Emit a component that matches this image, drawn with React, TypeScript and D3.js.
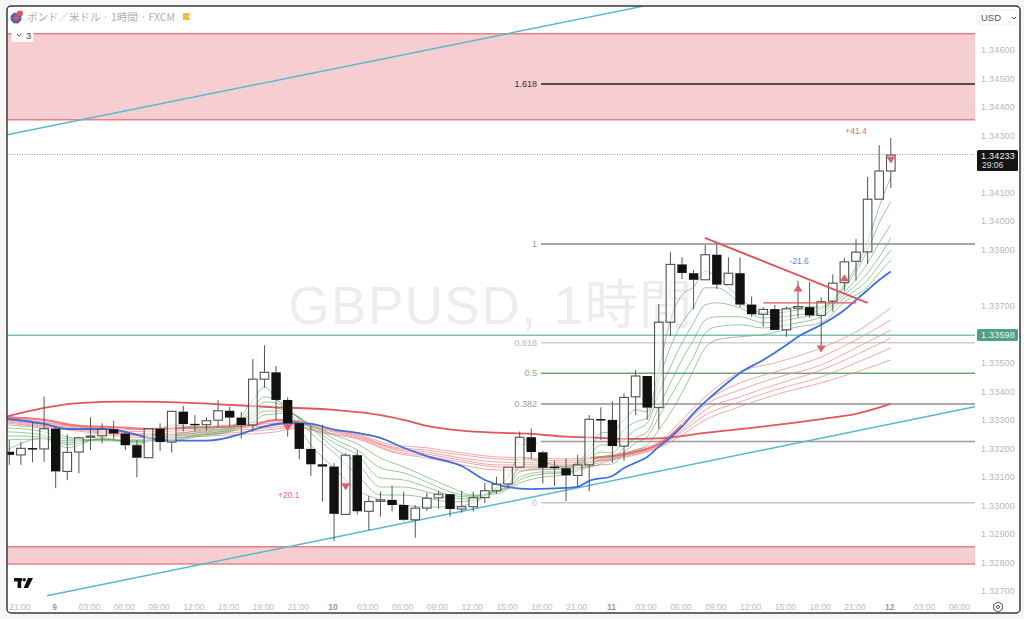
import React from "react";
import * as d3 from "d3";

const opens = [1.33189,1.33178,1.33202,1.33199,1.33270,1.33120,1.33188,1.33240,1.33245,1.33268,1.33253,1.33212,1.33168,1.33270,1.33223,1.33330,1.33287,1.33284,1.33300,1.33333,1.33309,1.33283,1.33444,1.33468,1.33371,1.33289,1.33199,1.33145,1.33137,1.32969,1.33177,1.32980,1.33015,1.33020,1.33002,1.32950,1.32991,1.33027,1.33040,1.32988,1.32996,1.33028,1.33052,1.33076,1.33135,1.33240,1.33187,1.33137,1.33131,1.33106,1.33143,1.33304,1.33301,1.33209,1.33382,1.33455,1.33344,1.33644,1.33847,1.33816,1.33793,1.33881,1.33776,1.33816,1.33706,1.33672,1.33690,1.33617,1.33693,1.33697,1.33668,1.33718,1.33783,1.33858,1.33891,1.34076,1.34175];
const highs = [1.33230,1.33224,1.33291,1.33382,1.33275,1.33250,1.33242,1.33310,1.33289,1.33298,1.33260,1.33230,1.33270,1.33289,1.33331,1.33350,1.33318,1.33310,1.33370,1.33347,1.33329,1.33515,1.33563,1.33490,1.33380,1.33289,1.33280,1.33283,1.33149,1.33184,1.33195,1.33034,1.33049,1.33070,1.33049,1.33002,1.33045,1.33052,1.33040,1.33052,1.33049,1.33080,1.33101,1.33135,1.33260,1.33271,1.33192,1.33158,1.33166,1.33178,1.33318,1.33345,1.33367,1.33394,1.33476,1.33455,1.33708,1.33890,1.33872,1.33827,1.33915,1.33921,1.33872,1.33872,1.33734,1.33696,1.33704,1.33699,1.33790,1.33786,1.33731,1.33812,1.33870,1.33936,1.34154,1.34266,1.34291];
const lows = [1.33143,1.33143,1.33152,1.33154,1.33061,1.33089,1.33113,1.33195,1.33219,1.33233,1.33195,1.33099,1.33168,1.33192,1.33186,1.33260,1.33260,1.33263,1.33274,1.33277,1.33235,1.33260,1.33414,1.33301,1.33242,1.33163,1.33104,1.33014,1.32876,1.32969,1.32969,1.32914,1.32961,1.32979,1.32947,1.32887,1.32981,1.32989,1.32961,1.32975,1.32979,1.33009,1.33041,1.33061,1.33135,1.33166,1.33078,1.33069,1.33016,1.33066,1.33051,1.33230,1.33151,1.33158,1.33318,1.33301,1.33269,1.33596,1.33795,1.33689,1.33793,1.33761,1.33775,1.33696,1.33663,1.33628,1.33617,1.33593,1.33660,1.33660,1.33540,1.33681,1.33755,1.33790,1.33849,1.34076,1.34116];
const closes = [1.33178,1.33201,1.33199,1.33270,1.33120,1.33187,1.33238,1.33244,1.33268,1.33253,1.33212,1.33168,1.33270,1.33223,1.33331,1.33286,1.33283,1.33298,1.33333,1.33309,1.33283,1.33444,1.33468,1.33371,1.33289,1.33199,1.33145,1.33137,1.32971,1.33177,1.32980,1.33014,1.33020,1.33002,1.32950,1.32991,1.33026,1.33040,1.32988,1.32996,1.33028,1.33052,1.33075,1.33135,1.33240,1.33188,1.33133,1.33132,1.33106,1.33143,1.33303,1.33302,1.33209,1.33380,1.33455,1.33344,1.33644,1.33847,1.33817,1.33793,1.33881,1.33776,1.33816,1.33706,1.33672,1.33689,1.33617,1.33691,1.33699,1.33668,1.33716,1.33781,1.33856,1.33890,1.34076,1.34175,1.34231];

const greenIdx = [-0.2,3,5,8,11,14,16,19,21,22,23,24,26,28,30,32,34,36,38,40,42,43,44,46,48,50,51,52,53,54,55,56,57,58,59,60,61,63,65,68,70,72,74,75,76];
const green1 = [1.33195,1.33238,1.33203,1.33238,1.33213,1.33283,1.33276,1.33276,1.33371,1.33417,1.33375,1.33336,1.33213,1.33132,1.33055,1.33020,1.33002,1.32995,1.32995,1.33009,1.33065,1.33100,1.33171,1.33153,1.33136,1.33195,1.33255,1.33259,1.33301,1.33336,1.33329,1.33476,1.33652,1.33740,1.33768,1.33824,1.33803,1.33729,1.33677,1.33698,1.33698,1.33775,1.33926,1.34049,1.34154];
const green2 = [1.33231,1.33234,1.33213,1.33234,1.33220,1.33248,1.33262,1.33273,1.33343,1.33382,1.33371,1.33343,1.33255,1.33185,1.33108,1.33037,1.33037,1.33027,1.33013,1.33017,1.33062,1.33073,1.33136,1.33136,1.33132,1.33178,1.33213,1.33213,1.33266,1.33294,1.33308,1.33441,1.33557,1.33642,1.33698,1.33765,1.33765,1.33712,1.33670,1.33687,1.33694,1.33765,1.33898,1.33993,1.34067];
const green3 = [1.33245,1.33241,1.33220,1.33234,1.33224,1.33241,1.33255,1.33269,1.33329,1.33364,1.33360,1.33336,1.33273,1.33203,1.33150,1.33065,1.33065,1.33048,1.33027,1.33023,1.33055,1.33069,1.33118,1.33129,1.33125,1.33167,1.33188,1.33185,1.33231,1.33266,1.33290,1.33396,1.33487,1.33571,1.33642,1.33705,1.33712,1.33694,1.33659,1.33670,1.33687,1.33750,1.33852,1.33923,1.33986];
const green4 = [1.33259,1.33248,1.33227,1.33231,1.33227,1.33234,1.33248,1.33266,1.33318,1.33350,1.33343,1.33332,1.33276,1.33220,1.33178,1.33097,1.33090,1.33065,1.33037,1.33030,1.33052,1.33065,1.33100,1.33118,1.33118,1.33153,1.33171,1.33171,1.33203,1.33238,1.33259,1.33347,1.33431,1.33512,1.33582,1.33652,1.33663,1.33663,1.33642,1.33659,1.33677,1.33740,1.33817,1.33873,1.33940];
const green5 = [1.33273,1.33259,1.33234,1.33231,1.33231,1.33231,1.33245,1.33262,1.33308,1.33332,1.33332,1.33329,1.33283,1.33234,1.33195,1.33132,1.33115,1.33083,1.33048,1.33034,1.33048,1.33062,1.33090,1.33111,1.33115,1.33143,1.33160,1.33160,1.33188,1.33220,1.33241,1.33311,1.33382,1.33452,1.33522,1.33606,1.33628,1.33635,1.33624,1.33642,1.33663,1.33729,1.33792,1.33845,1.33898];
const green6 = [1.33283,1.33269,1.33241,1.33227,1.33227,1.33227,1.33241,1.33259,1.33294,1.33318,1.33322,1.33325,1.33283,1.33248,1.33217,1.33167,1.33136,1.33100,1.33065,1.33037,1.33041,1.33058,1.33079,1.33100,1.33108,1.33136,1.33143,1.33146,1.33178,1.33195,1.33213,1.33266,1.33325,1.33396,1.33476,1.33554,1.33582,1.33593,1.33600,1.33628,1.33642,1.33715,1.33768,1.33817,1.33862];

const redIdx = [-0.2,5,12,19,23,25,27,30,33,36,39,42,45,48,50,52,54,56,58,60,63,66,70,73,76];
const red1 = [1.33311,1.33283,1.33266,1.33283,1.33297,1.33297,1.33276,1.33252,1.33213,1.33203,1.33185,1.33171,1.33167,1.33164,1.33167,1.33178,1.33195,1.33224,1.33301,1.33382,1.33469,1.33501,1.33554,1.33610,1.33694];
const red2 = [1.33308,1.33280,1.33259,1.33276,1.33290,1.33294,1.33273,1.33248,1.33206,1.33195,1.33178,1.33164,1.33160,1.33157,1.33160,1.33174,1.33192,1.33217,1.33287,1.33364,1.33431,1.33469,1.33522,1.33582,1.33652];
const red3 = [1.33301,1.33276,1.33252,1.33269,1.33283,1.33287,1.33269,1.33245,1.33203,1.33188,1.33167,1.33153,1.33150,1.33150,1.33153,1.33171,1.33188,1.33213,1.33276,1.33353,1.33406,1.33448,1.33494,1.33554,1.33617];
const red4 = [1.33297,1.33273,1.33248,1.33262,1.33276,1.33283,1.33266,1.33241,1.33199,1.33181,1.33160,1.33143,1.33143,1.33143,1.33150,1.33167,1.33185,1.33210,1.33266,1.33336,1.33382,1.33424,1.33476,1.33529,1.33589];
const red5 = [1.33294,1.33269,1.33245,1.33255,1.33269,1.33276,1.33259,1.33238,1.33192,1.33174,1.33153,1.33136,1.33132,1.33139,1.33143,1.33164,1.33181,1.33206,1.33259,1.33318,1.33364,1.33406,1.33452,1.33501,1.33554];
const red6 = [1.33290,1.33266,1.33238,1.33248,1.33259,1.33273,1.33255,1.33234,1.33188,1.33167,1.33143,1.33125,1.33125,1.33132,1.33136,1.33160,1.33178,1.33203,1.33248,1.33301,1.33347,1.33389,1.33431,1.33469,1.33511];

const coreAIdx = [-0.2,3,6,9,12,15,18,21,23,25];
const coreAVals = [1.33311,1.33301,1.33280,1.33276,1.33269,1.33273,1.33276,1.33283,1.33301,1.33294];
const coreBIdx = [50,52,54,56,57,58];
const coreBVals = [1.33167,1.33174,1.33188,1.33217,1.33245,1.33283];

const slowIdx = [-0.2,3,6,10,16,22,28,32,34,36,39,42,45,48,51,53,56,60,64,70,73,76];
const slowVals = [1.33313,1.33343,1.33360,1.33365,1.33360,1.33347,1.33336,1.33318,1.33301,1.33280,1.33263,1.33256,1.33252,1.33242,1.33238,1.33234,1.33236,1.33255,1.33273,1.33304,1.33322,1.33357];

const blueIdx = [-0.2,3,5,8,10,12,14,17,20,21,24,26,28,30,32,34,36,39,41,43,45,48,49,50,52,53,54,55,56,57,58,59,60,62,63,65,67,68,70,72,73,74,75,76];
const blueVals = [1.33304,1.33287,1.33269,1.33269,1.33259,1.33238,1.33228,1.33228,1.33252,1.33266,1.33290,1.33287,1.33267,1.33255,1.33238,1.33203,1.33174,1.33139,1.33090,1.33065,1.33058,1.33062,1.33066,1.33087,1.33104,1.33132,1.33151,1.33171,1.33207,1.33239,1.33277,1.33325,1.33364,1.33434,1.33466,1.33511,1.33564,1.33593,1.33635,1.33687,1.33722,1.33757,1.33792,1.33822];

const fibLabels = ["1.618","1","0.618","0.5","0.382","0.236","0"];
const fibPrices = [1.34481,1.33919,1.33572,1.33465,1.33357,1.33225,1.33010];
const fibLineColors = ["#222222","#8a8a8a","#cfcfcf","#6fa86f","#8f8f8f","#9a9a9a","#c8c8c8"];
const fibTextColors = ["#333333","#999999","#b8b8b8","#7fb57f","#a0a0a0","#b8b8b8","#bdbdbd"];

const priceTicks = [1.346,1.345,1.344,1.343,1.341,1.34,1.339,1.337,1.335,1.334,1.333,1.332,1.331,1.33,1.329,1.328,1.327];
const timeIdx = [1,4,7,10,13,16,19,22,25,28,31,34,37,40,43,46,49,52,55,58,61,64,67,70,73,76,79,82];
const timeLabels = ["21:00","9","03:00","06:00","09:00","12:00","15:00","18:00","21:00","10","03:00","06:00","09:00","12:00","15:00","18:00","21:00","11","03:00","06:00","09:00","12:00","15:00","18:00","21:00","12","03:00","06:00"];

const upperZone = [1.34657, 1.34355];
const lowerZone = [1.32855, 1.32795];
const tealLevel = 1.33598;
const lastPrice = 1.34233;
const tealTrendA = [[-0.2, 1.34302],[54.8, 1.34755]];
const tealTrendB = [[3.25, 1.32683],[83.25, 1.33347]];
const redTrend = [[59.97, 1.3394],[74, 1.33712]];
const redFlat = [[65, 1.33712],[73, 1.33712]];
const downMarks = [[24, 1.33273],[29, 1.33066],[76, 1.34214],[70, 1.3355]];
const upMarks = [[68, 1.33764],[72, 1.338]];
const notes: [string, number, number, string][] = [
  ["+41.4", 73, 1.34305, "#ec6a72"],
  ["-21.6", 68.1, 1.3385, "#5c86e6"],
  ["+20.1", 24.1, 1.33027, "#ec6a72"],
];

const PL = 7, PR = 975, PT = 6, PB = 613, FR = 1020;
const x = d3.scaleLinear().domain([0, 76]).range([9.3, 890.8]);
const y = d3.scaleLinear().domain([1.346, 1.327]).range([50, 591]);
const font = "'Liberation Sans', Arial, sans-serif";

const lineOf = (idx: number[], vals: number[]) =>
  d3.line<number>().x((d) => x(idx[d])).y((d) => y(vals[d])).curve(d3.curveMonotoneX)(idx.map((_, i) => i)) ?? "";

const segment = (p: number[][]) => `M${x(p[0][0])},${y(p[0][1])}L${x(p[1][0])},${y(p[1][1])}`;

const tri = (cx: number, cy: number, up: boolean) => {
  const p = d3.path();
  const h = up ? -3.5 : 3.5;
  p.moveTo(cx - 4.6, cy - h);
  p.lineTo(cx + 4.6, cy - h);
  p.lineTo(cx, cy + h);
  p.closePath();
  return p.toString();
};

export default function App() {
  const greens = [green6, green5, green4, green3, green2, green1];
  const reds = [red6, red5, red4, red3, red2, red1];
  return (
    <svg width={1024} height={619} style={{ position: "absolute", left: 0, top: 0, display: "block" }} fontFamily={font}>
      <defs>
        <clipPath id="plot"><rect x={PL} y={PT} width={PR - PL} height={PB - PT - 16} /></clipPath>
      </defs>
      <rect width={1024} height={619} fill="#f6f6f6" />
      <rect x={PL} y={PT} width={FR - PL} height={PB - PT} rx={4} fill="#ffffff" />

      <text x={491} y={324} textAnchor="middle" fontSize={53} fill="#ededed" letterSpacing={1.5} fontFamily="'Liberation Sans','Noto Sans CJK JP',sans-serif">GBPUSD, 1時間</text>

      {[upperZone, lowerZone].map((z, i) => (
        <g key={i}>
          <rect x={PL} width={PR - PL} y={y(z[0])} height={y(z[1]) - y(z[0])} fill="#f6ced2" />
          <line x1={PL} x2={PR} y1={y(z[0])} y2={y(z[0])} stroke="#ea7f86" strokeWidth={1.5} />
          <line x1={PL} x2={PR} y1={y(z[1])} y2={y(z[1])} stroke="#ea7f86" strokeWidth={1.5} />
        </g>
      ))}

      {fibPrices.map((p, i) => (
        <g key={i}>
          <line x1={541} x2={PR} y1={y(p)} y2={y(p)} stroke={fibLineColors[i]} strokeWidth={1.5} />
          <text x={537} y={y(p) + 3} textAnchor="end" fontSize={9} fill={fibTextColors[i]}>{fibLabels[i]}</text>
        </g>
      ))}

      <line x1={PL} x2={PR} y1={y(tealLevel)} y2={y(tealLevel)} stroke="#7cc4ae" strokeWidth={1.5} />
      <line x1={PL} x2={PR} y1={y(lastPrice)} y2={y(lastPrice)} stroke="#999999" strokeWidth={1} strokeDasharray="1 1.5" />

      <g clipPath="url(#plot)" fill="none">
        <path d={segment(tealTrendA)} stroke="#55b9d0" strokeWidth={1.5} />
        <path d={segment(tealTrendB)} stroke="#55b9d0" strokeWidth={1.5} />
        {reds.map((r, i) => <path key={i} d={lineOf(redIdx, r)} stroke="#f08a8c" strokeWidth={1} opacity={0.75} />)}
        <path d={lineOf(coreAIdx, coreAVals)} stroke="#ec5e62" strokeWidth={2.2} opacity={0.8} />
        <path d={lineOf(coreBIdx, coreBVals)} stroke="#ec5e62" strokeWidth={2} opacity={0.8} />
        {greens.map((g, i) => <path key={i} d={lineOf(greenIdx, g)} stroke="#67ab67" strokeWidth={1} opacity={0.65} />)}
        <path d={lineOf(slowIdx, slowVals)} stroke="#e4555c" strokeWidth={1.8} />
        <path d={lineOf(blueIdx, blueVals)} stroke="#3f6fe4" strokeWidth={1.8} />
      </g>

      <g clipPath="url(#plot)">
        {opens.map((o, i) => {
          const c = closes[i];
          const up = c >= o;
          const top = y(Math.max(o, c));
          const bot = y(Math.min(o, c));
          return (
            <g key={i}>
              <line x1={x(i)} x2={x(i)} y1={y(highs[i])} y2={top} stroke="#555555" strokeWidth={1} />
              <line x1={x(i)} x2={x(i)} y1={bot} y2={y(lows[i])} stroke="#555555" strokeWidth={1} />
              {up ? (
                <rect x={x(i) - 4.3} y={top} width={8.6} height={Math.max(bot - top, 1)} fill="#ffffff" fillOpacity={0.45} stroke="#505050" strokeWidth={1.1} />
              ) : (
                <rect x={x(i) - 4.7} y={top} width={9.4} height={Math.max(bot - top, 1.5)} fill="#111111" />
              )}
            </g>
          );
        })}
      </g>

      <path d={segment(redTrend)} stroke="#e0535c" strokeWidth={2} fill="none" />
      <path d={segment(redFlat)} stroke="#e0535c" strokeWidth={1.3} fill="none" />

      {downMarks.map((m, i) => <path key={i} d={tri(x(m[0]), y(m[1]), false)} fill="#d9606e" />)}
      {upMarks.map((m, i) => <path key={i} d={tri(x(m[0]), y(m[1]), true)} fill="#d9606e" />)}

      {notes.map((n, i) => (
        <text key={i} x={x(n[1])} y={y(n[2])} textAnchor="middle" fontSize={8.5} fill={n[3]}>{n[0]}</text>
      ))}

      {priceTicks.map((t) => (
        <text key={t} x={1015} y={y(t) + 3.2} textAnchor="end" fontSize={9} letterSpacing={0.2} fill="#b8b8b8">{t.toFixed(5)}</text>
      ))}
      <rect x={977} y={329} width={41} height={12} rx={1.5} fill="#4f9f8a" />
      <text x={1015} y={338.3} textAnchor="end" fontSize={9} letterSpacing={0.2} fill="#e9f5f1">{tealLevel.toFixed(5)}</text>
      <rect x={977} y={150} width={41} height={21} rx={1.5} fill="#141414" />
      <text x={1015} y={158.5} textAnchor="end" fontSize={9} letterSpacing={0.2} fill="#f0f0f0">{lastPrice.toFixed(5)}</text>
      <text x={982} y={168} fontSize={8.5} fill="#dddddd">29:06</text>

      {timeLabels.map((t, i) => {
        const day = t.length <= 2;
        return (
          <text key={i} x={x(timeIdx[i]) - 1} y={610} textAnchor="middle" fontSize={8.5} fontWeight={day ? 700 : 400} fill={day ? "#999999" : "#bcbcbc"}>{t}</text>
        );
      })}

      <g transform="translate(998,607)" fill="none" stroke="#555555">
        <path d={d3.lineRadial<number>().angle((d) => (d * Math.PI) / 3).radius(5).curve(d3.curveLinearClosed)([0, 1, 2, 3, 4, 5]) ?? ""} strokeWidth={1} />
        <circle r={1.5} strokeWidth={1} />
      </g>

      {/* TradingView logo */}
      <g transform="translate(14,578)" fill="#111111">
        <rect x={0} y={0} width={8} height={3.4} />
        <rect x={3.6} y={0} width={3.6} height={10} />
        <circle cx={10.2} cy={1.7} r={1.7} />
        <path d="M14,0 L19,0 L14,10 L9.6,10 Z" />
      </g>

      {/* header */}
      <circle cx={16} cy={18} r={5.5} fill="#3d5fa8" />
      <path d="M11,18 h10 M16,13 v10 M12.5,14.5 L19.5,21.5 M19.5,14.5 L12.5,21.5" stroke="#e8606a" strokeWidth={1} />
      <circle cx={20} cy={13.5} r={3} fill="#d95a5a" />
      <text x={27} y={21} fontSize={10.5} fill="#b0b0b0" fontFamily="'Noto Sans CJK JP','Liberation Sans',sans-serif">ポンド／米ドル · 1時間 · FXCM</text>
      <path d="M183,13 h7.5 l-2,3.5 2,3.5 h-7.5 Z" fill="#f4b942" />

      <rect x={11.5} y={29} width={22} height={13} rx={2} fill="#ffffff" fillOpacity={0.92} />
      <path d="M17,34 l2.2,2.2 l2.2,-2.2" fill="none" stroke="#444444" strokeWidth={1} />
      <text x={26} y={39} fontSize={9.5} fill="#444444">3</text>

      <rect x={979} y={10} width={38} height={15} rx={2} fill="#ffffff" stroke="#eeeeee" />
      <text x={981} y={21} fontSize={9.5} fill="#555555">USD</text>
      <path d="M1012,17 l2,2 l2,-2" fill="none" stroke="#555555" strokeWidth={1} />

      <rect x={PL} y={PT} width={FR - PL} height={PB - PT} rx={4} fill="none" stroke="#3a3a3a" strokeWidth={1.5} />
    </svg>
  );
}
